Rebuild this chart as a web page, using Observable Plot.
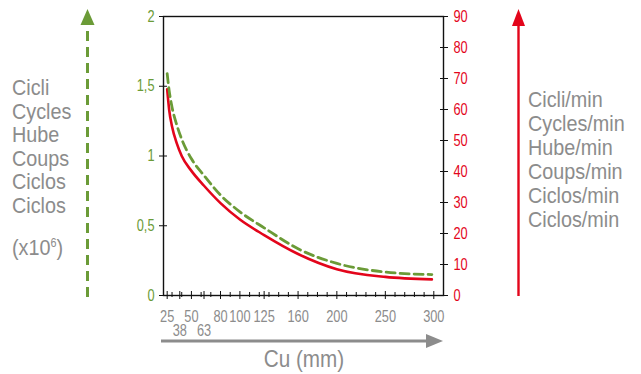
<!DOCTYPE html>
<html>
<head>
<meta charset="utf-8">
<script src="https://cdn.jsdelivr.net/npm/d3@7"></script>
<script src="https://cdn.jsdelivr.net/npm/@observablehq/plot@0.6"></script>
<style>
  html, body { margin: 0; padding: 0; background: #fff; }
  #chart { position: relative; width: 641px; height: 374px; }
</style>
</head>
<body>
<div id="chart"></div>
<script>
// ---- data ----
const cuMm = [25, 27, 30, 35, 40, 50, 63, 80, 100, 125, 160, 200, 250, 298];
// cycles x10^6 (left axis, green dashed)
const cyclesMillions = [1.59, 1.47, 1.35, 1.22, 1.12, 0.98, 0.86, 0.72, 0.60, 0.485, 0.335, 0.23, 0.168, 0.15];
// cycles per minute (right axis, red solid)
const cyclesPerMin = [66.5, 60, 54.5, 49, 45, 40.2, 35.4, 29.8, 24.5, 19.5, 13.4, 8.5, 6.0, 5.2];

const xMajorTicks = [25, 38, 50, 63, 80, 100, 125, 160, 200, 250, 300];
const xLabelRow1 = [25, 50, 80, 100, 125, 160, 200, 250, 300];
const xLabelRow2 = [38, 63];
const xMinorTicks = [30, 40, 60, 70, 90, 110, 120, 130, 140, 150, 170, 180, 190, 210, 220, 230, 240, 260, 270, 280, 290];
const leftTicks = [0, 0.5, 1, 1.5, 2];
const rightTicks = [0, 10, 20, 30, 40, 50, 60, 70, 80, 90];
const leftLabels = ["Cicli", "Cycles", "Hube", "Coups", "Ciclos", "Ciclos"];
const rightLabels = ["Cicli/min", "Cycles/min", "Hube/min", "Coups/min", "Ciclos/min", "Ciclos/min"];
const xTitle = "Cu (mm)";

// ---- styling ----
const GREEN = "#6b9b37";
const RED = "#e3051b";
const GRAY = "#8c8c8c";
const FONT = "'Liberation Sans', Arial, sans-serif";
const rightMax = 90, leftMax = 2;
const toLeft = v => v * leftMax / rightMax;

const greenData = cuMm.map((x, i) => ({x, y: cyclesMillions[i]}));
const redData = cuMm.map((x, i) => ({x, y: toLeft(cyclesPerMin[i])}));

const chart = Plot.plot({
  width: 641,
  height: 374,
  marginLeft: 163,
  marginRight: 198,
  marginTop: 16,
  marginBottom: 79,
  style: {fontFamily: FONT, fontSize: "16px", background: "#fff", overflow: "visible"},
  x: {domain: [21.2, 310], axis: null},
  y: {domain: [0, leftMax], axis: null},
  marks: [
    // curves
    Plot.line(redData, {x: "x", y: "y", stroke: RED, strokeWidth: 2.6, curve: "monotone-x"}),
    Plot.line(greenData, {x: "x", y: "y", stroke: GREEN, strokeWidth: 2.8, strokeDasharray: "9,5", curve: "monotone-x"}),
    Plot.frame({stroke: "#111", strokeWidth: 1.4}),
    // x ticks (crossing the axis)
    Plot.axisX({ticks: xMajorTicks, tickSize: 8, dy: -4, tickFormat: () => "", stroke: "#111", label: null}),
    Plot.axisX({ticks: xMinorTicks, tickSize: 5, dy: -3, tickFormat: () => "", stroke: "#111", label: null}),
    // x tick labels
    Plot.axisX({ticks: xLabelRow1, tickSize: 0, tickPadding: 15, fill: GRAY, label: null, fontSize: 16}),
    Plot.axisX({ticks: xLabelRow2, tickSize: 0, tickPadding: 29, fill: GRAY, label: null, fontSize: 16}),
    // left axis
    Plot.axisY({anchor: "left", ticks: leftTicks, tickSize: 8, dx: 4, tickFormat: () => "", stroke: "#111", label: null}),
    Plot.axisY({anchor: "left", ticks: leftTicks, tickSize: 0, tickPadding: 9, fill: GREEN, label: null, fontSize: 16,
      tickFormat: d => String(d).replace(".", ",")}),
    // right axis
    Plot.axisY({anchor: "right", ticks: rightTicks.map(toLeft), tickSize: 8, dx: -4, tickFormat: () => "", stroke: "#111", label: null}),
    Plot.axisY({anchor: "right", ticks: rightTicks.map(toLeft), tickSize: 0, tickPadding: 10, fill: RED, label: null, fontSize: 16,
      tickFormat: d => String(Math.round(d * rightMax / leftMax))})
  ]
});

document.getElementById("chart").appendChild(chart);

const svg = d3.select(chart);

// condense tick label glyphs horizontally (narrow typeface look)
svg.selectAll('g[aria-label$="tick label"] text').each(function() {
  const el = d3.select(this);
  const t = el.attr("transform");
  if (t && !/scale/.test(t)) el.attr("transform", `${t} scale(0.8,1)`);
});

// ---- decorations outside the frame ----
const [xr0, xr1] = chart.scale("x").range;
const [yBottom] = chart.scale("y").range;

const deco = svg.append("g").attr("text-anchor", "start");

// green dashed arrow (left)
deco.append("line").attr("x1", 87.5).attr("x2", 87.5).attr("y1", yBottom + 2).attr("y2", 24)
  .attr("stroke", GREEN).attr("stroke-width", 3).attr("stroke-dasharray", "10,6");
deco.append("path").attr("d", `M87.5,9 L94.5,25 L80.5,25 Z`).attr("fill", GREEN);

// red arrow (right)
deco.append("line").attr("x1", 518.5).attr("x2", 518.5).attr("y1", yBottom + 1).attr("y2", 24)
  .attr("stroke", RED).attr("stroke-width", 2.4);
deco.append("path").attr("d", `M518.5,9 L525,26 L512,26 Z`).attr("fill", RED);

// gray x arrow
deco.append("line").attr("x1", xr0 - 2).attr("x2", xr1 - 14).attr("y1", 341).attr("y2", 341)
  .attr("stroke", GRAY).attr("stroke-width", 3);
deco.append("path").attr("d", `M${xr1},341 L${xr1 - 17},334 L${xr1 - 17},348 Z`).attr("fill", GRAY);

// x title
deco.append("g").attr("transform", `translate(${(xr0 + xr1) / 2 + 1},367) scale(0.9,1)`)
  .append("text").attr("text-anchor", "middle").attr("fill", GRAY)
  .style("font-size", "23px").style("font-family", FONT).text(xTitle);

// left labels
const lg = deco.append("g").attr("transform", "translate(12,0) scale(0.9,1)");
const lt = lg.append("text").attr("text-anchor", "start").attr("fill", GRAY)
  .style("font-size", "22px").style("font-family", FONT);
leftLabels.forEach((s, i) => lt.append("tspan").attr("x", 0).attr("y", 95 + i * 23.6).text(s));
const mult = lg.append("text").attr("x", 0).attr("y", 255).attr("text-anchor", "start").attr("fill", GRAY)
  .style("font-size", "22px").style("font-family", FONT);
mult.append("tspan").text("(x10");
mult.append("tspan").attr("dy", -8).style("font-size", "12px").text("6");
mult.append("tspan").attr("dy", 8).text(")");

// right labels
const rg = deco.append("g").attr("transform", "translate(528,0) scale(0.9,1)");
const rt = rg.append("text").attr("text-anchor", "start").attr("fill", GRAY)
  .style("font-size", "22px").style("font-family", FONT);
rightLabels.forEach((s, i) => rt.append("tspan").attr("x", 0).attr("y", 107 + i * 24).text(s));
</script>
</body>
</html>
